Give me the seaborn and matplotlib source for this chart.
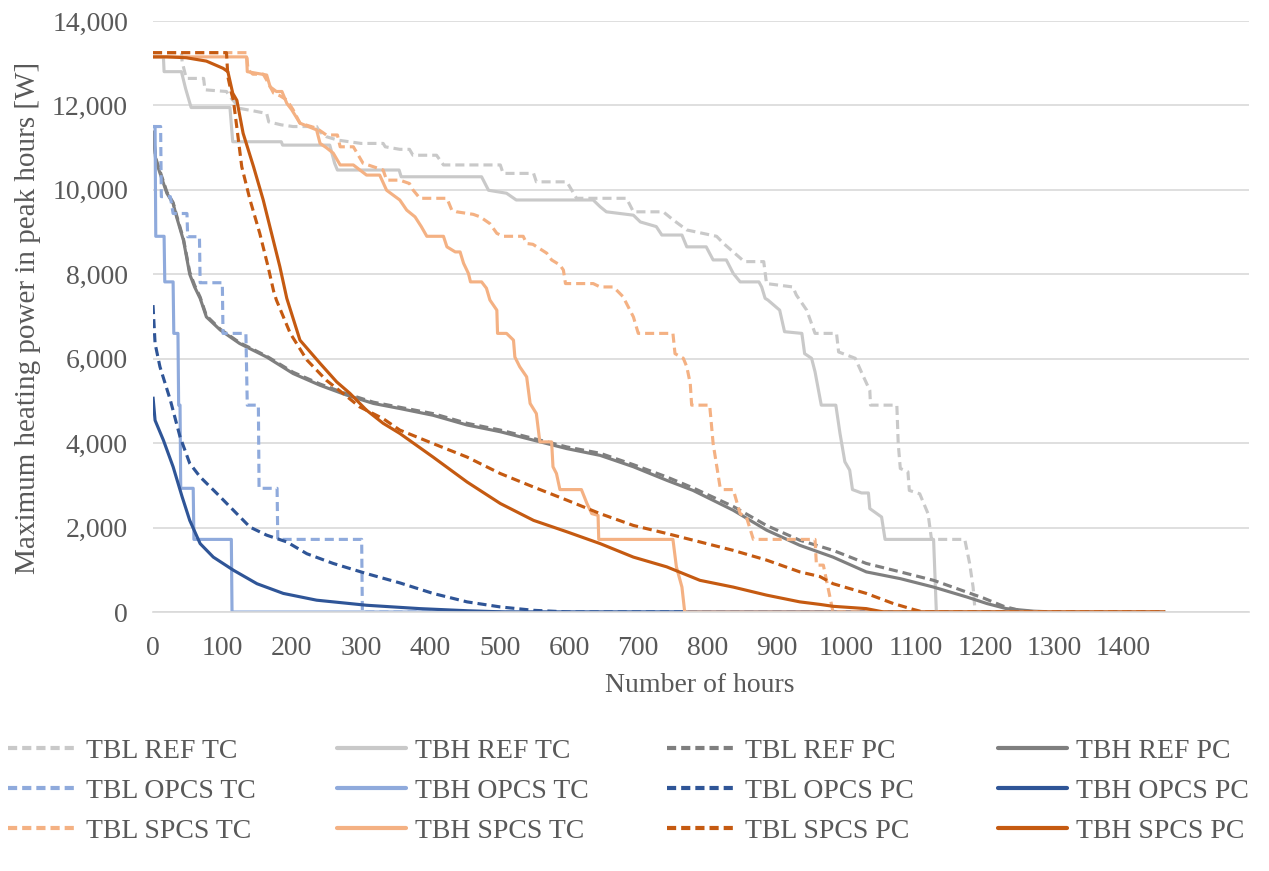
import numpy as np
import pandas as pd
import matplotlib
matplotlib.use("Agg")
import matplotlib.pyplot as plt
from matplotlib.lines import Line2D
from matplotlib.ticker import FuncFormatter
import seaborn as sns

# ---------------- data (hours, maximum heating power in W) ----------------
tbl_ref_tc_h = [0, 41, 42, 48, 73, 75, 106, 111, 125, 145, 164, 167, 185, 202, 236, 240, 250, 266, 300, 332, 335, 356, 370, 375, 409, 419, 501, 505, 549, 553, 597, 611, 683, 693, 736, 751, 770, 813, 823, 853, 881, 885, 923, 928, 933, 943, 955, 986, 989, 1013, 1025, 1034, 1035, 1073, 1075, 1078, 1089, 1091, 1106, 1118, 1123, 1171, 1178, 1183, 1186, 1460]
tbl_ref_tc_w = [13250, 13250, 13040, 12640, 12640, 12370, 12330, 12210, 11930, 11870, 11810, 11610, 11540, 11500, 11500, 11380, 11260, 11180, 11100, 11100, 11020, 10960, 10960, 10820, 10820, 10590, 10590, 10390, 10390, 10190, 10190, 9800, 9800, 9480, 9480, 9280, 9050, 8900, 8730, 8300, 8300, 7780, 7700, 7510, 7390, 7150, 6600, 6600, 6160, 6010, 5570, 5250, 4900, 4900, 3990, 3400, 3320, 2880, 2800, 2330, 1720, 1720, 1150, 590, 0, 0]

tbh_ref_tc_h = [0, 15, 16, 41, 47, 55, 111, 115, 185, 187, 255, 262, 266, 355, 358, 474, 484, 510, 524, 635, 645, 654, 693, 703, 726, 734, 763, 770, 798, 808, 827, 837, 847, 874, 878, 883, 887, 904, 911, 936, 940, 950, 955, 964, 985, 991, 998, 1005, 1009, 1022, 1032, 1034, 1051, 1056, 1126, 1130, 1460]
tbh_ref_tc_w = [13150, 13150, 12800, 12800, 12400, 11950, 11950, 11140, 11140, 11060, 11060, 10630, 10470, 10470, 10310, 10310, 9990, 9920, 9760, 9760, 9600, 9480, 9400, 9240, 9130, 8930, 8930, 8650, 8650, 8340, 8340, 8020, 7820, 7820, 7700, 7430, 7390, 7150, 6640, 6600, 6120, 6010, 5690, 4900, 4900, 4230, 3560, 3360, 2900, 2820, 2820, 2450, 2250, 1720, 1720, 0, 0]

tbl_ref_pc_h = [0, 4, 10, 20, 29, 34, 44, 53, 60, 68, 77, 97, 125, 164, 202, 241, 279, 318, 356, 404, 453, 501, 549, 597, 645, 693, 741, 779, 837, 885, 933, 981, 1029, 1078, 1126, 1174, 1198, 1227, 1246, 1270, 1460]
tbl_ref_pc_w = [11400, 10750, 10450, 9950, 9700, 9400, 8830, 8050, 7740, 7460, 7020, 6700, 6380, 6060, 5680, 5400, 5170, 4970, 4850, 4700, 4470, 4310, 4110, 3910, 3760, 3490, 3200, 2940, 2500, 2050, 1700, 1460, 1150, 950, 750, 470, 330, 135, 55, 0, 0]

tbh_ref_pc_h = [0, 4, 10, 20, 29, 34, 44, 53, 60, 68, 77, 97, 125, 164, 202, 241, 279, 318, 356, 404, 453, 501, 549, 597, 645, 693, 741, 779, 837, 885, 933, 981, 1029, 1078, 1126, 1174, 1203, 1231, 1270, 1300, 1460]
tbh_ref_pc_w = [11400, 10700, 10400, 9920, 9680, 9360, 8800, 8000, 7700, 7430, 6990, 6680, 6360, 6040, 5650, 5370, 5140, 4940, 4820, 4660, 4430, 4270, 4070, 3870, 3710, 3440, 3120, 2880, 2410, 1940, 1580, 1300, 950, 790, 590, 355, 200, 80, 20, 0, 0]

tbl_opcs_tc_h = [0, 11, 12, 25, 29, 49, 50, 67, 68, 100, 101, 134, 136, 152, 153, 179, 180, 301, 302, 1460]
tbl_opcs_tc_w = [11500, 11500, 9840, 9840, 9440, 9440, 8890, 8890, 7800, 7800, 6600, 6600, 4900, 4900, 2930, 2930, 1720, 1720, 0, 0]

tbh_opcs_tc_h = [0, 3, 4, 16, 17, 29, 30, 36, 37, 39, 40, 58, 59, 113, 114, 1460]
tbh_opcs_tc_w = [11500, 11500, 8900, 8900, 7820, 7820, 6600, 6600, 4900, 4900, 2930, 2930, 1720, 1720, 0, 0]

tbl_opcs_pc_h = [0, 3, 10, 25, 39, 53, 68, 92, 116, 140, 164, 193, 222, 260, 308, 356, 404, 453, 501, 549, 600, 1460]
tbl_opcs_pc_w = [7270, 6360, 5810, 5020, 4150, 3520, 3200, 2810, 2410, 2010, 1820, 1660, 1380, 1150, 910, 690, 440, 240, 120, 40, 0, 0]

tbh_opcs_pc_h = [0, 3, 15, 29, 42, 53, 68, 87, 116, 150, 188, 236, 308, 356, 385, 453, 510, 1460]
tbh_opcs_pc_w = [5100, 4540, 4070, 3440, 2730, 2170, 1620, 1300, 990, 670, 440, 280, 160, 110, 80, 30, 0, 0]

tbl_spcs_tc_h = [0, 135, 137, 144, 159, 164, 174, 183, 193, 202, 212, 236, 250, 266, 270, 289, 303, 332, 337, 356, 370, 375, 385, 424, 431, 438, 462, 472, 486, 496, 505, 534, 539, 548, 568, 575, 587, 592, 595, 635, 645, 664, 669, 678, 693, 700, 750, 753, 765, 770, 775, 777, 803, 808, 818, 822, 837, 847, 856, 866, 955, 957, 967, 981, 1460]
tbl_spcs_tc_w = [13250, 13250, 12840, 12740, 12740, 12600, 12290, 12230, 12130, 11900, 11580, 11460, 11300, 11300, 11020, 11020, 10630, 10470, 10230, 10230, 10150, 10000, 9800, 9800, 9520, 9480, 9420, 9360, 9200, 8970, 8900, 8900, 8730, 8710, 8500, 8340, 8220, 8100, 7780, 7780, 7700, 7700, 7620, 7470, 6990, 6600, 6600, 6120, 6010, 5810, 5410, 4900, 4900, 3990, 2960, 2900, 2900, 2330, 2250, 1720, 1720, 1110, 1110, 0, 0]

tbh_spcs_tc_h = [0, 135, 136, 164, 169, 178, 186, 193, 200, 212, 236, 241, 250, 260, 270, 289, 308, 327, 337, 356, 366, 378, 387, 395, 419, 424, 436, 443, 448, 455, 458, 474, 481, 486, 496, 497, 510, 520, 522, 529, 539, 544, 553, 558, 575, 577, 582, 587, 618, 626, 633, 642, 643, 750, 755, 763, 767, 1460]
tbh_spcs_tc_w = [13150, 13150, 12800, 12720, 12440, 12330, 12330, 12050, 11900, 11580, 11420, 11100, 11000, 10870, 10590, 10590, 10350, 10350, 9990, 9760, 9520, 9360, 9130, 8900, 8900, 8650, 8530, 8530, 8260, 8020, 7820, 7820, 7670, 7390, 7150, 6600, 6600, 6440, 6040, 5810, 5570, 4940, 4700, 4030, 4030, 3440, 3280, 2900, 2900, 2570, 2330, 2290, 1720, 1720, 1070, 590, 0, 0]

tbl_spcs_pc_h = [0, 106, 108, 113, 116, 122, 128, 140, 154, 166, 174, 178, 198, 222, 250, 274, 298, 332, 356, 404, 453, 501, 549, 597, 645, 693, 741, 789, 837, 885, 933, 962, 981, 1029, 1068, 1097, 1111, 1460]
tbl_spcs_pc_w = [13250, 13250, 12680, 12300, 12120, 11340, 10550, 9760, 8970, 8180, 7600, 7390, 6600, 5970, 5490, 5180, 4860, 4580, 4310, 3990, 3670, 3280, 2960, 2650, 2330, 2050, 1860, 1660, 1460, 1230, 950, 840, 670, 440, 200, 60, 0, 0]

tbh_spcs_pc_h = [0, 20, 48, 77, 101, 108, 115, 121, 130, 145, 159, 171, 183, 193, 212, 241, 265, 284, 308, 332, 356, 404, 453, 501, 549, 597, 645, 693, 741, 789, 837, 885, 933, 962, 981, 1029, 1054, 1460]
tbh_spcs_pc_w = [13150, 13150, 13130, 13050, 12880, 12800, 12290, 12120, 11340, 10550, 9760, 8970, 8180, 7430, 6440, 5890, 5450, 5180, 4780, 4470, 4230, 3670, 3080, 2570, 2170, 1900, 1620, 1300, 1070, 750, 590, 400, 240, 180, 135, 80, 0, 0]

series_labels = ["TBL REF TC", "TBH REF TC", "TBL REF PC", "TBH REF PC",
                 "TBL OPCS TC", "TBH OPCS TC", "TBL OPCS PC", "TBH OPCS PC",
                 "TBL SPCS TC", "TBH SPCS TC", "TBL SPCS PC", "TBH SPCS PC"]
series_hours = [tbl_ref_tc_h, tbh_ref_tc_h, tbl_ref_pc_h, tbh_ref_pc_h,
                tbl_opcs_tc_h, tbh_opcs_tc_h, tbl_opcs_pc_h, tbh_opcs_pc_h,
                tbl_spcs_tc_h, tbh_spcs_tc_h, tbl_spcs_pc_h, tbh_spcs_pc_h]
series_power = [tbl_ref_tc_w, tbh_ref_tc_w, tbl_ref_pc_w, tbh_ref_pc_w,
                tbl_opcs_tc_w, tbh_opcs_tc_w, tbl_opcs_pc_w, tbh_opcs_pc_w,
                tbl_spcs_tc_w, tbh_spcs_tc_w, tbl_spcs_pc_w, tbh_spcs_pc_w]
series_colors = ["#C9C9C9", "#C9C9C9", "#7F7F7F", "#7F7F7F",
                 "#8FAADC", "#8FAADC", "#2F5597", "#2F5597",
                 "#F4B183", "#F4B183", "#C55A11", "#C55A11"]

x_ticks = list(range(0, 1501, 100))
x_tick_labels = [str(t) for t in range(0, 1401, 100)] + [""]
y_ticks = list(range(0, 14001, 2000))

# ---------------- styling ----------------
sns.set_theme(style="white")
plt.rcParams['font.family'] = ['Liberation Serif', 'DejaVu Serif']
TEXT = "#595959"
GRID = "#D9D9D9"
DASH = (0, (2.9, 1.6))
LEG_DASH = (0, (2.2, 1.2))
FS = 20

W, H = 1269, 871
fig = plt.figure(figsize=(W / 100, H / 100), dpi=100)
ax = fig.add_axes([153 / W, (H - 612) / H, (1249 - 153) / W, (612 - 21) / H])

for lab, hrs, pw, col in zip(series_labels, series_hours, series_power, series_colors):
    df = pd.DataFrame({"Number of hours": hrs, "Power": pw})
    sns.lineplot(data=df, x="Number of hours", y="Power", ax=ax, color=col,
                 lw=2.25, sort=False, estimator=None, legend=False)
    line = ax.lines[-1]
    line.set_solid_capstyle("butt")
    if lab.startswith("TBL"):
        line.set_linestyle(DASH)

ax.set_xlim(0, 1581)
ax.set_ylim(0, 14000)
ax.set_xticks(x_ticks)
ax.set_xticklabels(x_tick_labels)
ax.set_yticks(y_ticks)
ax.yaxis.set_major_formatter(FuncFormatter(lambda v, p: f"{v:,.0f}"))

for s in ["top", "right", "left"]:
    ax.spines[s].set_visible(False)
ax.spines["bottom"].set_color(GRID)
ax.spines["bottom"].set_linewidth(1.2)
ax.yaxis.grid(True, color=GRID, lw=1.2)
ax.xaxis.grid(False)
ax.set_axisbelow(True)

ax.tick_params(axis="x", direction="in", length=6, width=1, color=GRID,
               pad=17, labelsize=FS, labelcolor=TEXT)
ax.tick_params(axis="y", length=0, pad=18, labelsize=FS, labelcolor=TEXT)

ax.set_xlabel("Number of hours", fontsize=FS, color=TEXT, va="center")
ax.xaxis.set_label_coords((700 - 153) / 1096, (612 - 685) / 591)
ax.set_ylabel("Maximum heating power in peak hours [W]", fontsize=21, color=TEXT,
              va="center", ha="center")
ax.yaxis.set_label_coords((28 - 153) / 1096, (612 - 318) / 591)

# ---------------- legend: 4 columns x 3 rows ----------------
col_x = [8, 337, 667, 998]
for c in range(4):
    idx = [c, c + 4, c + 8]
    handles = [Line2D([], [], color=series_colors[i], lw=3,
                      linestyle=LEG_DASH if series_labels[i].startswith("TBL") else "-")
               for i in idx]
    labels = [series_labels[i] for i in idx]
    fig.legend(handles, labels, loc="center left",
               bbox_to_anchor=(col_x[c] / W, 1 - 791 / H),
               frameon=False, borderpad=0, borderaxespad=0,
               handlelength=2.5, handletextpad=0.3, labelspacing=0.52,
               fontsize=FS, labelcolor=TEXT)

fig.savefig("out.png", dpi=100)
